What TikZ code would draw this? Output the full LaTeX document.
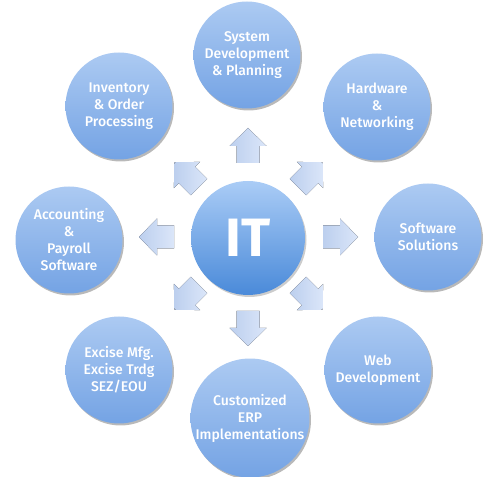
\documentclass[tikz,border=0pt]{standalone}
\usepackage{fontspec}
\setmainfont{Fira Sans}
\newfontfamily\ringfont{Fira Sans Medium}
\usepackage{xcolor}
\usepackage{tikz}
\usetikzlibrary{shadows}
\definecolor{ringtop}{RGB}{172,202,242}
\definecolor{ringbot}{RGB}{116,163,228}
\definecolor{hubtop}{RGB}{170,204,246}
\definecolor{hubbot}{RGB}{74,138,217}
\definecolor{arrhi}{RGB}{219,230,249}
\definecolor{arrlo}{RGB}{188,207,238}

\begin{document}
\begin{tikzpicture}[x=1pt, y=1pt,
  ring/.style={circle, minimum size=107pt, inner sep=0pt, align=center,
               top color=ringtop, bottom color=ringbot, text=white,
               font=\ringfont\fontsize{14}{17}\selectfont,
               drop shadow={shadow xshift=1.5pt, shadow yshift=-2pt, opacity=0.55}},
  hub/.style={circle, minimum size=114pt, inner sep=0pt,
              top color=hubtop, bottom color=hubbot, text=white,
              font=\fontsize{54}{54}\selectfont\bfseries,
              drop shadow={shadow xshift=1.5pt, shadow yshift=-2pt, opacity=0.4}},
  blk/.pic={\fill[left color=arrlo, right color=arrhi]
              (-17,-11.5) -- (0,-11.5) -- (0,-18.5) -- (18,0) -- (0,18.5)
              -- (0,11.5) -- (-17,11.5) -- cycle;}
]
\useasboundingbox (0,0) rectangle (500,476);

%% Centre
\node[hub] (it) at (248, 238) {IT};

%% Outer circles
\node[ring] (sys) at (247, 421) {System\\Development\\\& Planning};
\node[ring] (hw)  at (377, 369) {Hardware\\\&\\Networking};
\node[ring] (sw)  at (428, 239) {Software\\Solutions};
\node[ring] (web) at (378, 106) {Web\\Development};
\node[ring] (erp) at (250,  58) {Customized\\ERP\\Implementations};
\node[ring] (exc) at (119, 106) {Excise Mfg.\\Excise Trdg\\SEZ/EOU};
\node[ring] (acc) at ( 69, 236) {Accounting\\\&\\Payroll\\Software};
\node[ring] (inv) at (119, 370) {Inventory\\\& Order\\Processing};

%% Block arrows
\pic[rotate=90]   (a_up)  at (248, 330) {blk};
\pic[rotate=45]   (a_ur)  at (310, 301) {blk};
\pic[rotate=0]    (a_r)   at (340, 239) {blk};
\pic[rotate=-45]  (a_dr)  at (310, 179) {blk};
\pic[rotate=-90]  (a_dn)  at (248, 148) {blk};
\pic[rotate=-135] (a_dl)  at (187, 179) {blk};
\pic[rotate=180]  (a_l)   at (157, 239) {blk};
\pic[rotate=135]  (a_ul)  at (187, 301) {blk};

\end{tikzpicture}
\end{document}
